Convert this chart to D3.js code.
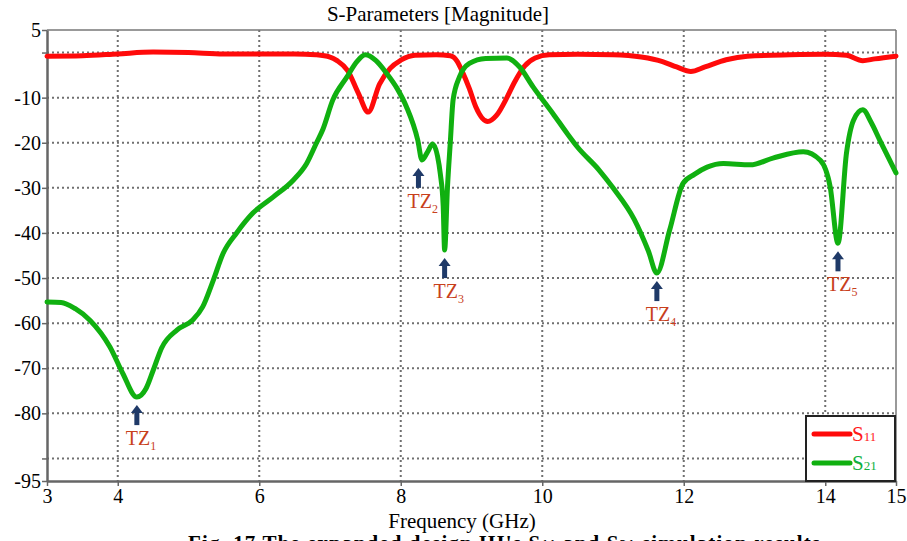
<!DOCTYPE html>
<html>
<head>
<meta charset="utf-8">
<script src="https://cdn.jsdelivr.net/npm/d3@7"></script>
<style>
  body { margin: 0; background: #fff; }
  svg text { font-family: "Liberation Serif", "DejaVu Serif", "Times New Roman", Times, serif !important; }
</style>
</head>
<body>
<div id="chart"></div>
<script>
// S11 trace (GHz, dB)
var s11Freq = [3.0, 3.5, 4.0, 4.5, 5.0, 5.5, 6.0, 6.5, 6.8, 7.0, 7.1, 7.25, 7.4, 7.54, 7.7, 7.85, 8.0, 8.2, 8.5, 8.7,
               8.8, 8.86, 8.97, 9.06, 9.23, 9.35, 9.5, 9.6, 9.75, 9.9, 10.1, 10.5, 11.0, 11.4, 11.7, 11.9, 12.1, 12.3,
               12.6, 12.9, 13.5, 14.0, 14.3, 14.53, 14.7, 15.0];
var s11Val  = [-0.8, -0.7, -0.3, 0.1, 0.0, -0.3, -0.3, -0.3, -0.5, -1.0, -1.8, -4.0, -9, -13.2, -7, -3.5, -1.7, -0.6, -0.5, -0.7,
               -2.0, -3.9, -8, -12, -15.3, -14, -10, -6.8, -3, -1.2, -0.5, -0.4, -0.5, -1.0, -2.0, -3.2, -4.2, -3.2,
               -1.6, -0.8, -0.5, -0.4, -0.6, -1.8, -1.4, -0.8];

// S21 trace (GHz, dB)
var s21Freq = [3.0, 3.2, 3.4, 3.61, 3.89, 4.07, 4.27, 4.4, 4.5, 4.62, 4.84, 5.06, 5.2, 5.35, 5.49, 5.68, 5.91, 6.2, 6.48,
               6.67, 6.81, 6.9, 7.04, 7.24, 7.38, 7.5, 7.65, 7.8, 7.95, 8.08, 8.24, 8.3, 8.38, 8.45, 8.52, 8.56, 8.6, 8.62,
               8.66, 8.7, 8.74, 8.83, 8.97, 9.2, 9.5, 9.68, 9.87, 10.15, 10.35, 10.5, 10.8, 11.0, 11.3, 11.5, 11.62,
               11.8, 11.99, 12.15, 12.33, 12.56, 12.94, 13.26, 13.69, 13.93, 14.07, 14.18, 14.3, 14.4, 14.53, 14.65,
               14.77, 15.0];
var s21Val  = [-55.3, -55.4, -56.8, -59.4, -65.3, -71.1, -76.4, -74.5, -70.5, -65.5, -61.5, -59.3, -56.4, -50.5, -44.5, -40, -35.6, -32, -28.3,
               -24.6, -20, -17, -10.5, -5.4, -2, -0.5, -1.8, -4.6, -8, -12, -19.4, -23.8, -22, -20.3, -23, -27, -34, -43.8,
               -30, -20, -10.5, -5.4, -2.4, -1.3, -1.2, -3.2, -7.6, -13.5, -17.9, -21, -26, -30, -37, -44, -48.9,
               -39.4, -29, -27, -25.4, -24.6, -24.9, -23.4, -22, -23.9, -29.8, -42.3, -22.3, -15, -12.7, -15.5,
               -19.4, -26.7];

// transmission zeros
var tzFreq  = [4.27, 8.25, 8.62, 11.62, 14.18];
var tzVal   = [-76.4, -23.8, -43.8, -48.9, -42.3];
var tzNames = ["1", "2", "3", "4", "5"];

var xTicks  = [3, 4, 6, 8, 10, 12, 14, 15];
var xGrid   = [4, 6, 8, 10, 12, 14];
var yTicks  = [5, 0, -10, -20, -30, -40, -50, -60, -70, -80, -90, -95];
var yLabels = [5, -10, -20, -30, -40, -50, -60, -70, -80, -95];
var yGrid   = [0, -10, -20, -30, -40, -50, -60, -70, -80, -90];

var serif = "'Liberation Serif', 'DejaVu Serif', 'Times New Roman', serif";

var margin = {top: 30, right: 11, bottom: 60, left: 47},
    width = 907 - margin.left - margin.right,
    height = 541 - margin.top - margin.bottom;

var svg = d3.select("#chart").append("svg")
    .attr("width", 907)
    .attr("height", 541)
    .attr("font-family", serif);

var g = svg.append("g")
    .attr("transform", "translate(" + margin.left + "," + margin.top + ")");

var x = d3.scaleLinear().domain([3, 15]).range([0, width]);
var y = d3.scaleLinear().domain([-95, 5]).range([height, 0]);

// dotted grid
g.append("g").selectAll("line")
    .data(yGrid).enter().append("line")
    .attr("x1", 0).attr("x2", width)
    .attr("y1", function(d){ return y(d); })
    .attr("y2", function(d){ return y(d); })
    .attr("stroke", "#707070").attr("stroke-width", 2)
    .attr("stroke-dasharray", "2,3");

g.append("g").selectAll("line")
    .data(xGrid).enter().append("line")
    .attr("y1", 0).attr("y2", height)
    .attr("x1", function(d){ return x(d); })
    .attr("x2", function(d){ return x(d); })
    .attr("stroke", "#707070").attr("stroke-width", 2)
    .attr("stroke-dasharray", "2,3");

// frame
g.append("line").attr("x1", 0).attr("x2", width).attr("y1", 0).attr("y2", 0)
    .attr("stroke", "#777").attr("stroke-width", 1.5);
g.append("line").attr("x1", width).attr("x2", width).attr("y1", 0).attr("y2", height)
    .attr("stroke", "#777").attr("stroke-width", 1.5);

// axes
var xAxis = g.append("g")
    .attr("transform", "translate(0," + height + ")")
    .call(d3.axisBottom(x).tickValues(xTicks).tickSize(5).tickSizeOuter(0)
        .tickFormat(d3.format("d")));

var yAxis = g.append("g")
    .call(d3.axisLeft(y).tickValues(yTicks).tickSize(5).tickSizeOuter(0)
        .tickFormat(function(d){ return yLabels.indexOf(d) >= 0 ? d : ""; }));

[xAxis, yAxis].forEach(function(a){
  a.attr("font-family", serif).attr("font-size", 20);
  a.select(".domain").attr("stroke", "#666").attr("stroke-width", 2.5);
  a.selectAll(".tick line").attr("stroke", "#666").attr("stroke-width", 1.5);
  a.selectAll(".tick text").attr("fill", "#000");
});
xAxis.selectAll(".tick text").attr("y", 8).attr("dy", "0.71em");
yAxis.selectAll(".tick text").attr("x", -6).attr("dy", "0.32em");

// traces
var line = d3.line()
    .x(function(d){ return x(d[0]); })
    .y(function(d){ return y(d[1]); })
    .curve(d3.curveMonotoneX);

g.append("path")
    .datum(d3.zip(s11Freq, s11Val))
    .attr("d", line)
    .attr("fill", "none")
    .attr("stroke", "#ff0a0a").attr("stroke-width", 5)
    .attr("stroke-linejoin", "round").attr("stroke-linecap", "round");

g.append("path")
    .datum(d3.zip(s21Freq, s21Val))
    .attr("d", line)
    .attr("fill", "none")
    .attr("stroke", "#10b010").attr("stroke-width", 5)
    .attr("stroke-linejoin", "round").attr("stroke-linecap", "round");

// TZ arrows and labels
var tz = g.append("g").selectAll("g")
    .data(d3.zip(tzFreq, tzVal, tzNames)).enter().append("g")
    .attr("transform", function(d){ return "translate(" + x(d[0]) + "," + (y(d[1]) + 8) + ")"; });

tz.append("rect")
    .attr("x", -2.5).attr("y", 7).attr("width", 5).attr("height", 13)
    .attr("fill", "#1f3a68");
tz.append("path")
    .attr("d", "M0,0 L6,8 L-6,8 Z")
    .attr("fill", "#1f3a68");

var tzText = tz.append("text")
    .attr("x", -11).attr("y", 40)
    .attr("fill", "#c8401c")
    .style("font-size", "20px");
tzText.append("tspan").text("TZ");
tzText.append("tspan").attr("dy", 5).style("font-size", "12px")
    .text(function(d){ return d[2]; });

// legend
var lg = g.append("g").attr("transform", "translate(" + (width - 90) + "," + (height - 65) + ")");
lg.append("rect").attr("width", 89).attr("height", 65)
    .attr("fill", "#fff").attr("stroke", "#222").attr("stroke-width", 2);

var legendItems = [["11", "#ff0a0a", "#ff1a1a"], ["21", "#10b010", "#10b040"]];
legendItems.forEach(function(it, i){
  var yy = 18 + i * 29;
  lg.append("line").attr("x1", 8).attr("x2", 44).attr("y1", yy).attr("y2", yy)
      .attr("stroke", it[1]).attr("stroke-width", 5).attr("stroke-linecap", "round");
  var t = lg.append("text").attr("x", 46).attr("y", yy + 7)
      .attr("fill", it[2]).style("font-size", "21px");
  t.append("tspan").text("S");
  t.append("tspan").style("font-size", "13px").text(it[0]);
});

// titles
svg.append("text")
    .attr("x", 438).attr("y", 21)
    .attr("text-anchor", "middle")
    .style("font-size", "21px")
    .text("S-Parameters [Magnitude]");

svg.append("text")
    .attr("x", 462).attr("y", 528)
    .attr("text-anchor", "middle")
    .style("font-size", "21px")
    .text("Frequency (GHz)");

// figure caption (cut off at the bottom edge, as in the source figure)
var cap = svg.append("text")
    .attr("x", 188).attr("y", 550)
    .attr("textLength", 632)
    .style("font-size", "21px").style("font-weight", "bold");
cap.append("tspan").text("Fig. 17 The expanded design HI's S");
cap.append("tspan").style("font-size", "14px").text("11");
cap.append("tspan").text(" and S");
cap.append("tspan").style("font-size", "14px").text("21");
cap.append("tspan").text(" simulation results");
</script>
</body>
</html>
